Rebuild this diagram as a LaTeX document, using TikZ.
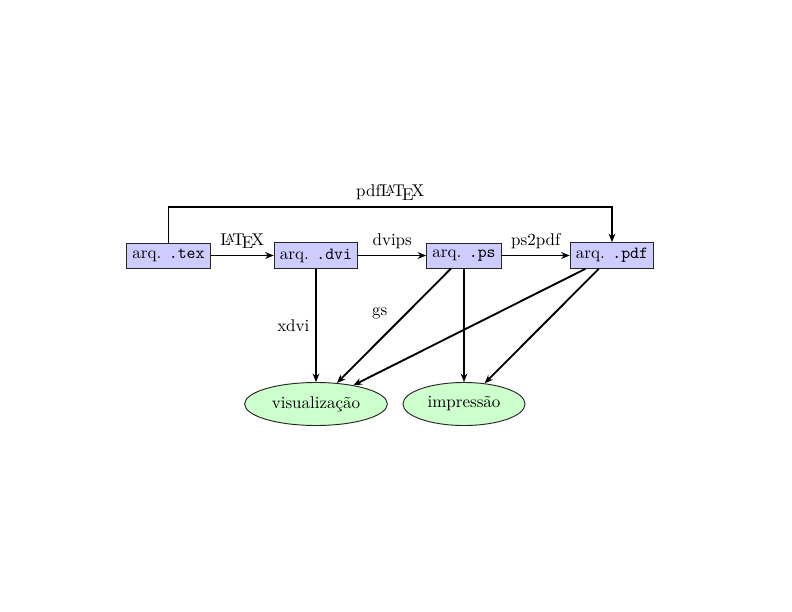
\documentclass[tikz,border=0pt]{standalone}
\usepackage{fontspec}
\usetikzlibrary{arrows.meta,shapes.geometric}
\begin{document}
\begin{tikzpicture}[x=0.5882pt,y=-0.5882pt,
  filebox/.style={draw=black!85,line width=0.55pt,fill=blue!20,rectangle,inner sep=3.4pt,minimum height=14.7pt},
  outnode/.style={draw=black!85,line width=0.55pt,fill=green!20,ellipse,minimum height=25.3pt,inner sep=0pt},
  conn/.style={line width=1.1pt,-{Stealth[length=5pt,width=4pt,inset=1.6pt]}}]
\useasboundingbox (0,0) rectangle (792,612);
\node[filebox] (tex) at (168.5,255.5) {arq. \texttt{.tex}};
\node[filebox] (dvi) at (316,255.5) {arq. \texttt{.dvi}};
\node[filebox] (ps)  at (464,255.5) {arq. \texttt{.ps}};
\node[filebox] (pdf) at (612,255.5) {arq. \texttt{.pdf}};
\node[outnode,minimum width=84pt] (vis) at (316,404) {visualização};
\node[outnode,minimum width=71.8pt] (imp) at (464,404) {impressão};
\coordinate (top) at (390,207);
\draw[conn] (tex) -- node[above] {\LaTeX} (dvi);
\draw[conn] (dvi) -- node[above] {dvips} (ps);
\draw[conn] (ps) -- node[above] {ps2pdf} (pdf);
\draw[conn] (tex.north) -- (tex.north |- top) -- node[above] {pdf\LaTeX} (pdf.north |- top) -- (pdf.north);
\draw[conn] (dvi) -- node[left,pos=0.5] {xdvi} (vis);
\draw[conn] (ps) -- node[above left,pos=0.5] {gs} (vis);
\draw[conn] (ps) -- (imp);
\draw[conn] (pdf) -- (vis);
\draw[conn] (pdf) -- (imp);
\end{tikzpicture}
\end{document}
